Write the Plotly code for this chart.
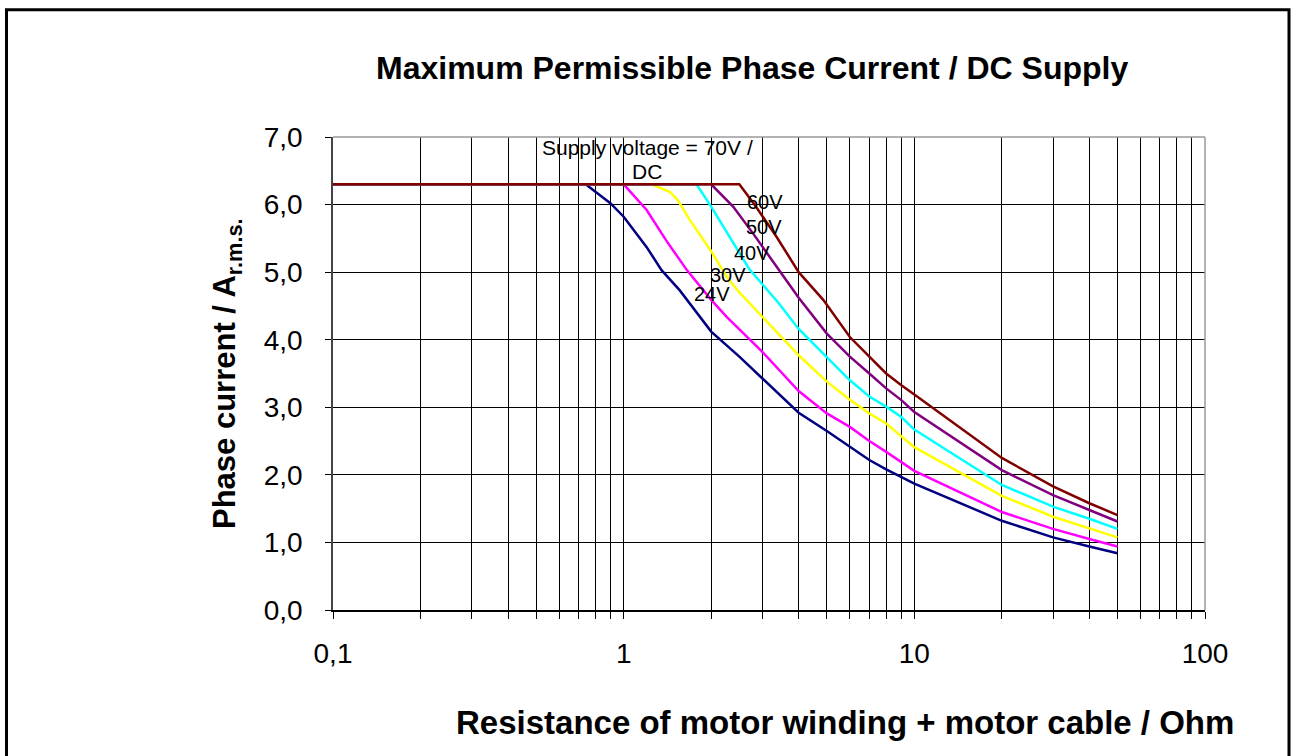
import plotly.graph_objects as go

# ---- data (resistance in Ohm, current in A r.m.s.) ----
R_24 = [0.1, 0.74, 0.9, 1.0, 1.2, 1.35, 1.56, 1.83, 2.0, 2.5, 3, 4, 5, 6, 7, 8, 10, 20, 30, 40, 50]
I_24 = [6.3, 6.3, 6.02, 5.82, 5.37, 5.03, 4.73, 4.34, 4.12, 3.75, 3.43, 2.92, 2.65, 2.42, 2.22, 2.08, 1.87, 1.32, 1.075, 0.94, 0.84]

R_30 = [0.1, 1.0, 1.2, 1.4, 1.65, 2.0, 2.27, 2.58, 3, 4, 5, 6, 7, 8, 10, 20, 30, 40, 50]
I_30 = [6.3, 6.3, 5.92, 5.47, 5.03, 4.59, 4.33, 4.10, 3.82, 3.24, 2.91, 2.71, 2.50, 2.34, 2.06, 1.45, 1.20, 1.05, 0.94]

R_40 = [0.1, 1.25, 1.44, 1.54, 1.69, 2.0, 2.27, 2.5, 3, 4, 5, 6, 7, 8, 10, 20, 30, 40, 50]
I_40 = [6.3, 6.3, 6.19, 6.06, 5.77, 5.31, 4.92, 4.70, 4.34, 3.77, 3.38, 3.11, 2.91, 2.76, 2.41, 1.69, 1.38, 1.21, 1.075]

R_50 = [0.1, 1.78, 2.0, 2.32, 2.7, 3, 3.4, 4, 5, 6, 7, 8, 9, 10, 20, 30, 40, 50]
I_50 = [6.3, 6.3, 5.97, 5.52, 5.05, 4.82, 4.55, 4.16, 3.75, 3.40, 3.16, 3.01, 2.86, 2.67, 1.85, 1.53, 1.35, 1.20]

R_60 = [0.1, 2.0, 2.38, 2.79, 3.36, 4, 5, 6, 7, 8, 9, 10, 20, 30, 40, 50]
I_60 = [6.3, 6.3, 5.97, 5.57, 5.08, 4.62, 4.09, 3.75, 3.50, 3.28, 3.11, 2.93, 2.07, 1.70, 1.48, 1.31]

R_70 = [0.1, 2.5, 2.83, 3.36, 4, 4.86, 6, 7, 8, 9, 10, 20, 30, 40, 50]
I_70 = [6.3, 6.3, 5.99, 5.52, 5.0, 4.59, 4.04, 3.75, 3.50, 3.33, 3.19, 2.25, 1.83, 1.58, 1.405]

series_names = ["24V", "30V", "40V", "50V", "60V", "70V"]
series_colors = ["#000080", "#FF00FF", "#FFFF00", "#00FFFF", "#800080", "#800000"]

x_major_ticks = [0.1, 1, 10, 100]
x_major_text = ["0,1", "1", "10", "100"]
x_minor_ticks = [0.2, 0.3, 0.4, 0.5, 0.6, 0.7, 0.8, 0.9,
                 2, 3, 4, 5, 6, 7, 8, 9,
                 20, 30, 40, 50, 60, 70, 80, 90]
y_tickvals = [0, 1, 2, 3, 4, 5, 6, 7]

# ---- geometry (pixels; page body margin removed by post script) ----
W, H = 1293, 756
L, R, T, B = 333, 1205, 137, 610   # plot area


def px(x):
    return (x - L) / (R - L)


def py(y):
    return (B - y) / (B - T)


fig = go.Figure()
series = [(R_24, I_24), (R_30, I_30), (R_40, I_40), (R_50, I_50), (R_60, I_60), (R_70, I_70)]
for (xs, ys), name, col in zip(series, series_names, series_colors):
    fig.add_trace(go.Scatter(x=xs, y=ys, mode="lines", name=name,
                             line=dict(color=col, width=2.5)))

FONT = "Liberation Sans, Arial, sans-serif"

fig.update_layout(
    width=W, height=H,
    margin=dict(l=L, r=W - R, t=T, b=H - B, pad=0),
    paper_bgcolor="white", plot_bgcolor="white",
    showlegend=False,
    separators=", ",
    font=dict(family=FONT, color="black"),
)

fig.update_xaxes(
    type="log", range=[-1, 2],
    tickmode="array", tickvals=x_major_ticks, ticktext=x_major_text,
    showgrid=True, gridcolor="black", gridwidth=1,
    showline=True, linecolor="black", linewidth=1.5,
    ticks="outside", ticklen=7, tickcolor="black", tickwidth=1,
    tickfont=dict(size=28, family=FONT, color="black"),
    ticklabelstandoff=11,
    minor=dict(tickmode="array", tickvals=x_minor_ticks, showgrid=True,
               gridcolor="black", gridwidth=1, ticks="outside", ticklen=7,
               tickcolor="black", tickwidth=1),
    zeroline=False,
)
fig.update_yaxes(
    range=[0, 7],
    tickmode="array", tickvals=y_tickvals, tickformat=".1f",
    showgrid=True, gridcolor="black", gridwidth=1,
    showline=True, linecolor="#444444", linewidth=1.5,
    ticks="outside", ticklen=6, tickcolor="black", tickwidth=1,
    tickfont=dict(size=28, family=FONT, color="black"),
    ticklabelstandoff=17,
    zeroline=False,
)

# plot-area top and right border (gray)
fig.add_shape(type="line", xref="paper", yref="paper", x0=0, x1=1, y0=1, y1=1,
              line=dict(color="#9a9a9a", width=1.5), layer="above")
fig.add_shape(type="line", xref="paper", yref="paper", x0=1, x1=1, y0=0, y1=1,
              line=dict(color="#9a9a9a", width=1.5), layer="above")
# outer figure frame
fig.add_shape(type="rect", xref="paper", yref="paper",
              x0=px(6.5), x1=px(1289), y0=py(770), y1=py(9.7),
              line=dict(color="black", width=3), fillcolor="rgba(0,0,0,0)", layer="above")

ann = []
ann.append(dict(text="<b>Maximum Permissible Phase Current / DC Supply</b>",
                x=px(752), y=py(68), font=dict(size=32)))
ann.append(dict(text="<b>Resistance of motor winding + motor cable / Ohm</b>",
                x=px(845), y=py(722), font=dict(size=33)))
ann.append(dict(text="<b>Phase current / A<sub>r.m.s.</sub></b>",
                x=px(227), y=py(374), font=dict(size=31), textangle=-90))
ann.append(dict(text="Supply voltage = 70V /", x=px(647), y=py(147), font=dict(size=21)))
ann.append(dict(text="DC", x=px(647), y=py(171), font=dict(size=21)))
label_pos = {"60V": (765, 202), "50V": (764, 227), "40V": (752, 253),
             "30V": (728, 275), "24V": (712, 294)}
for t, (lx, ly) in label_pos.items():
    ann.append(dict(text=t, x=px(lx), y=py(ly), font=dict(size=20)))

for a in ann:
    a.update(xref="paper", yref="paper", showarrow=False,
             xanchor="center", yanchor="middle")
    a["font"].update(family=FONT, color="black")
    fig.add_annotation(**a)

fig.write_html(
    "out.html",
    config={"displayModeBar": False},
    post_script="document.body.style.margin='0';document.body.style.overflow='hidden';",
)
